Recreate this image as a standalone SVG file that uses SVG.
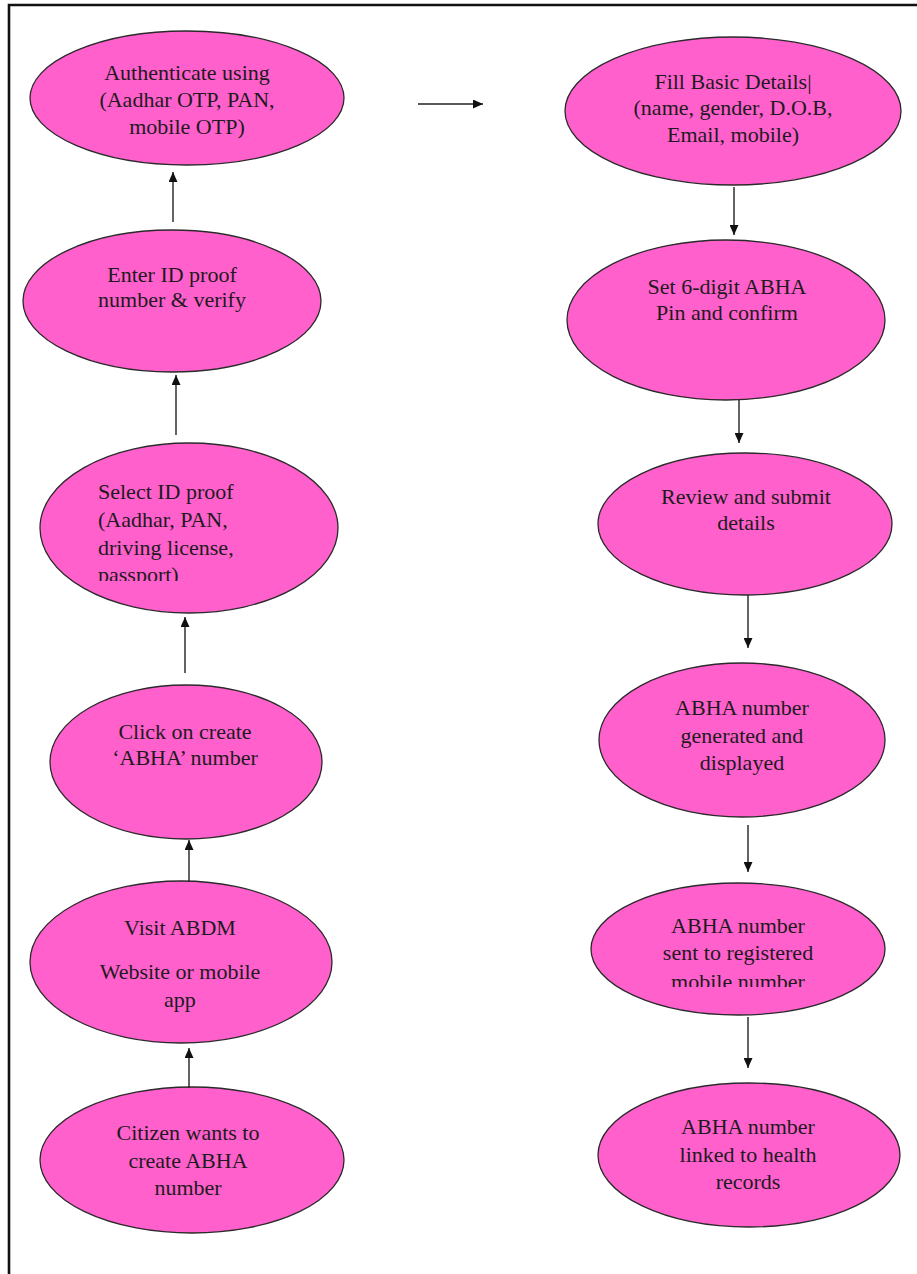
<svg xmlns="http://www.w3.org/2000/svg" width="917" height="1274" viewBox="0 0 917 1274">
<style>
.n ellipse{fill:#FF60CC;stroke:#2a2a2a;stroke-width:1.3}
.n text{font-family:"Liberation Serif","Times New Roman",serif;font-size:22px;fill:#1e1a1e;text-anchor:middle}
.n text.l{text-anchor:start}
.c line{stroke:#222;stroke-width:1.4;marker-end:url(#ah)}
.frame{stroke:#111;stroke-width:2.6;fill:none}
</style>
<defs>
<marker id="ah" markerUnits="userSpaceOnUse" markerWidth="11" markerHeight="9" refX="10" refY="4.5" orient="auto">
<path d="M0,0 L10,4.5 L0,9 Z" fill="#111"/>
</marker>
<clipPath id="clip3"><rect x="0" y="420" width="400" height="161"/></clipPath>
<clipPath id="clip11"><rect x="540" y="860" width="377" height="127"/></clipPath>
</defs>
<rect width="917" height="1274" fill="#fff"/>
<path class="frame" d="M9,1274 L9,5 L917,5"/>

<g id="n1" class="n">
<ellipse cx="187" cy="98" rx="157" ry="67"/>
<text x="187" y="80">Authenticate using</text>
<text x="187" y="107">(Aadhar OTP, PAN,</text>
<text x="187" y="134">mobile OTP)</text>
</g>
<g id="n2" class="n">
<ellipse cx="172" cy="301" rx="149" ry="71"/>
<text x="172" y="282">Enter ID proof</text>
<text x="172" y="307">number &amp; verify</text>
</g>
<g id="n3" class="n">
<ellipse cx="189" cy="528" rx="149" ry="85"/>
<g clip-path="url(#clip3)">
<text class="l" x="98" y="499">Select ID proof</text>
<text class="l" x="98" y="527">(Aadhar, PAN,</text>
<text class="l" x="98" y="555">driving license,</text>
<text class="l" x="98" y="582">passport)</text>
</g>
</g>
<g id="n4" class="n">
<ellipse cx="186" cy="762" rx="136" ry="77"/>
<text x="185" y="739">Click on create</text>
<text x="185" y="765">‘ABHA’ number</text>
</g>
<g id="n5" class="n">
<ellipse cx="181" cy="962" rx="151" ry="81"/>
<text x="180" y="935">Visit ABDM</text>
<text x="180" y="979">Website or mobile</text>
<text x="180" y="1007">app</text>
</g>
<g id="n6" class="n">
<ellipse cx="192" cy="1160" rx="152" ry="73"/>
<text x="188" y="1140">Citizen wants to</text>
<text x="188" y="1168">create ABHA</text>
<text x="188" y="1195">number</text>
</g>

<g id="n7" class="n">
<ellipse cx="733" cy="111" rx="168" ry="74"/>
<text x="733" y="89">Fill Basic Details|</text>
<text x="733" y="115">(name, gender, D.O.B,</text>
<text x="733" y="142">Email, mobile)</text>
</g>
<g id="n8" class="n">
<ellipse cx="726" cy="320" rx="159" ry="80"/>
<text x="727" y="294">Set 6-digit ABHA</text>
<text x="727" y="320">Pin and confirm</text>
</g>
<g id="n9" class="n">
<ellipse cx="745" cy="524" rx="147" ry="71"/>
<text x="746" y="504">Review and submit</text>
<text x="746" y="530">details</text>
</g>
<g id="n10" class="n">
<ellipse cx="742" cy="740" rx="143" ry="77"/>
<text x="742" y="715">ABHA number</text>
<text x="742" y="743">generated and</text>
<text x="742" y="770">displayed</text>
</g>
<g id="n11" class="n">
<ellipse cx="738" cy="949" rx="147" ry="66"/>
<g clip-path="url(#clip11)">
<text x="738" y="933">ABHA number</text>
<text x="738" y="960">sent to registered</text>
<text x="738" y="989">mobile number</text>
</g>
</g>
<g id="n12" class="n">
<ellipse cx="749" cy="1155" rx="151" ry="72"/>
<text x="748" y="1134">ABHA number</text>
<text x="748" y="1162">linked to health</text>
<text x="748" y="1189">records</text>
</g>

<g id="connectors" class="c">
<line x1="173" y1="222" x2="173" y2="172"/>
<line x1="176" y1="435" x2="176" y2="375"/>
<line x1="185" y1="673" x2="185" y2="617"/>
<line x1="189" y1="882" x2="189" y2="840"/>
<line x1="189" y1="1088" x2="189" y2="1048"/>
<line x1="418" y1="104" x2="483" y2="104"/>
<line x1="734" y1="187" x2="734" y2="235"/>
<line x1="739" y1="400" x2="739" y2="443"/>
<line x1="748" y1="595" x2="748" y2="648"/>
<line x1="748" y1="825" x2="748" y2="872"/>
<line x1="748" y1="1017" x2="748" y2="1068"/>
</g>
</svg>
